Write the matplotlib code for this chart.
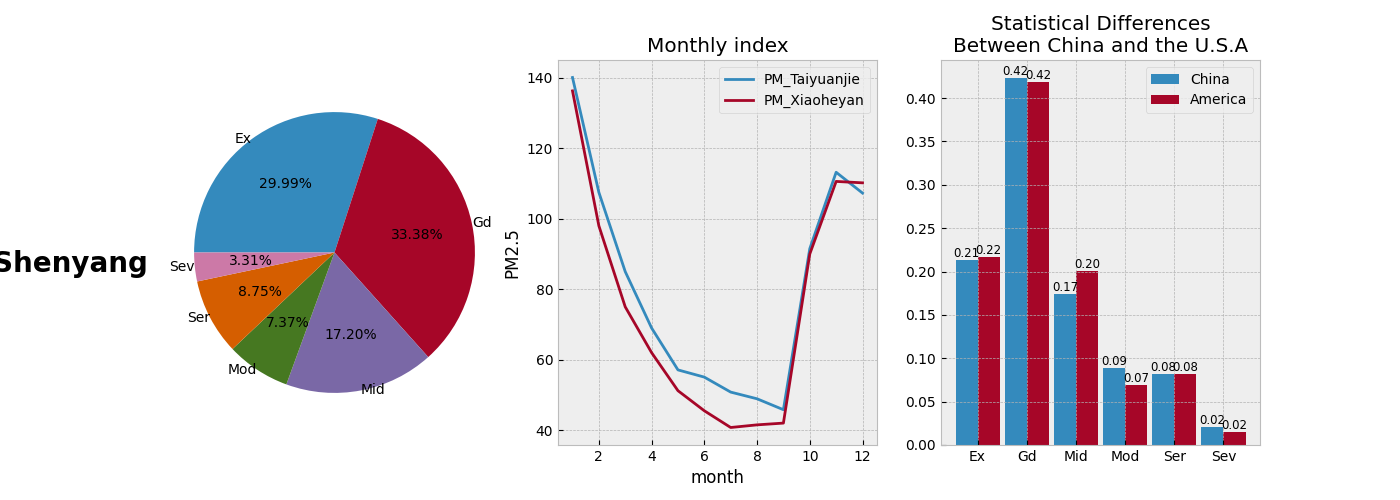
import matplotlib
matplotlib.use("Agg")
import matplotlib.pyplot as plt
import numpy as np

plt.style.use("bmh")

pie_labels = ["Ex", "Gd", "Mid", "Mod", "Ser", "Sev"]
pie_values = [29.99, 33.38, 17.20, 7.37, 8.75, 3.31]
months = list(range(1, 13))
pm_taiyuanjie = [140.1, 107.5, 85, 69, 57.1, 55.05, 50.8, 48.9, 45.8, 91.5, 113.2, 107.3]
pm_xiaoheyan = [136.3, 98, 75, 62, 51.2, 45.5, 40.75, 41.5, 42, 90, 110.6, 110.2]
bar_labels = ["Ex", "Gd", "Mid", "Mod", "Ser", "Sev"]
china = [0.2133, 0.4227, 0.1744, 0.0888, 0.0818, 0.0207]
america = [0.2167, 0.418, 0.2002, 0.0692, 0.0818, 0.0152]

fig = plt.figure(figsize=(14, 5), dpi=100)
W, H = 1400, 500

ax1 = fig.add_axes([174.5/W, 1-445/H, 320/W, 385/H])
ax1.pie(pie_values, labels=pie_labels, autopct="%.2f%%", startangle=180,
        counterclock=False, radius=1.097, labeldistance=1.0)
ax1.set_aspect("equal")
fig.text(70/W, 1-264/H, "Shenyang", fontsize=20, fontweight="bold", ha="center", va="center")

ax2 = fig.add_axes([558/W, 1-445/H, 319/W, 385/H])
ax2.plot(months, pm_taiyuanjie, label="PM_Taiyuanjie")
ax2.plot(months, pm_xiaoheyan, label="PM_Xiaoheyan")
ax2.set_title("Monthly index")
ax2.set_xlabel("month")
ax2.set_ylabel("PM2.5")
ax2.legend(loc="upper right")

ax3 = fig.add_axes([941/W, 1-445/H, 319/W, 385/H])
x = np.arange(len(bar_labels))
w = 0.45
b1 = ax3.bar(x - w/2, china, w, label="China")
b2 = ax3.bar(x + w/2, america, w, label="America")
for bars in (b1, b2):
    for r in bars:
        ax3.text(r.get_x() + r.get_width()/2, r.get_height(), f"{r.get_height():.2f}",
                 ha="center", va="bottom", fontsize=8.5)
ax3.set_xticks(x)
ax3.set_xticklabels(bar_labels)
ax3.set_title("Statistical Differences\nBetween China and the U.S.A")
ax3.legend(loc="upper right")

fig.savefig("out.png", dpi=100)
